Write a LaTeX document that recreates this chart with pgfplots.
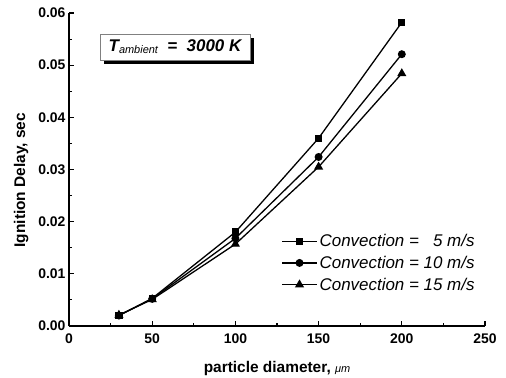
\documentclass[border=0pt]{standalone}
\usepackage{pgfplots}
\pgfplotsset{compat=1.18}
\usepackage{fontspec}
\setmainfont{Liberation Sans}
\usetikzlibrary{shadows}
\begin{document}
\begin{tikzpicture}
\useasboundingbox (0,0) rectangle (506bp,378bp);
\begin{axis}[
  at={(69bp,52bp)}, anchor=south west,
  scale only axis, width=416bp, height=313bp,
  xmin=0, xmax=250, ymin=0, ymax=0.06,
  axis x line*=bottom, axis y line*=left,
  axis line style={-, line width=1.5bp},
  xtick={0,50,100,150,200,250},
  ytick={0,0.01,0.02,0.03,0.04,0.05,0.06},
  minor x tick num=1, minor y tick num=1,
  tick align=inside,
  major tick length=5bp, minor tick length=3bp,
  every tick/.style={black, line width=1.1bp},
  /pgf/number format/assume math mode=true,
  ticklabel style={font=\fontsize{14}{16}\selectfont\bfseries},
  xticklabel style={yshift=-4bp},
  yticklabel style={/pgf/number format/.cd, fixed, fixed zerofill, precision=2},
  scaled y ticks=false,
  xlabel={particle diameter, {\fontsize{11}{12}\selectfont\mdseries\itshape μm}},
  ylabel={Ignition Delay, sec},
  label style={font=\fontsize{15.5}{17}\selectfont\bfseries},
  xlabel style={at={(axis description cs:0.5,-0.147)}, anchor=base},
  ylabel style={at={(axis description cs:-0.115,0.466)}, anchor=center},
  legend style={at={(rel axis cs:0.51,0.30)}, anchor=north west, draw=none, fill=none,
    font=\fontsize{17}{19}\selectfont\itshape, row sep=4bp, inner sep=0pt,
    /tikz/every even column/.append style={column sep=2bp}},
  legend cell align=left,
  legend image code/.code={\draw[mark repeat=2,mark phase=2] plot coordinates {(0bp,0bp)(17.5bp,0bp)(35bp,0bp)};},
]
\addplot[black, line width=1.3bp, mark=square*, mark size=3bp, mark options={solid, fill=black}] coordinates {(30,0.0020)(50,0.0053)(100,0.0180)(150,0.0360)(200,0.0582)};
\addlegendentry{Convection =\ \ \ 5 m/s}
\addplot[black, line width=1.3bp, mark=*, mark size=3.3bp, mark options={solid, fill=black}] coordinates {(30,0.0020)(50,0.0052)(100,0.0168)(150,0.0324)(200,0.0521)};
\addlegendentry{Convection = 10 m/s}
\addplot[black, line width=1.3bp, mark=triangle*, mark size=4bp, mark options={solid, fill=black}] coordinates {(30,0.0021)(50,0.0051)(100,0.0157)(150,0.0305)(200,0.0484)};
\addlegendentry{Convection = 15 m/s}
\node[draw=gray, line width=0.6bp, fill=white, minimum width=150bp, minimum height=26bp, inner sep=0pt,
  drop shadow={shadow xshift=4bp, shadow yshift=-4bp, fill=black, opacity=1}]
  at (axis cs:63.7,0.05348)
  {\fontsize{17}{19}\selectfont\bfseries\itshape T\raisebox{-0.12em}{\fontsize{11}{12}\selectfont\mdseries ambient}\ \ =\ \ 3000 K};
\end{axis}
\end{tikzpicture}
\end{document}
